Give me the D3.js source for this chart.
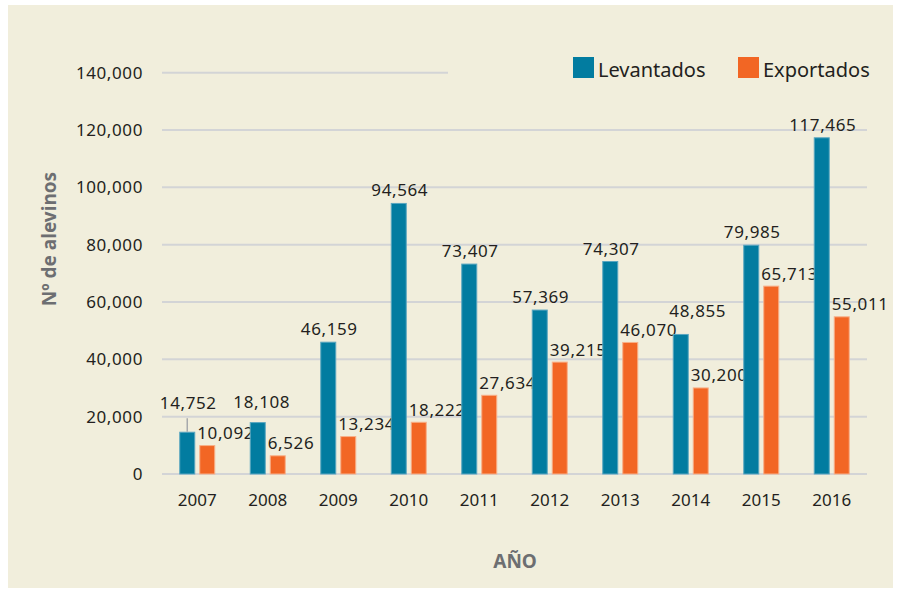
<!DOCTYPE html>
<html>
<head>
<meta charset="utf-8">
<script src="https://cdn.jsdelivr.net/npm/d3@7"></script>
<style>
  html, body { margin: 0; padding: 0; background: #ffffff; }
  svg { display: block; }
  text { font-family: "Noto Sans", sans-serif; }
</style>
</head>
<body>
<svg id="chart" width="899" height="589"></svg>
<script>
const years = ["2007","2008","2009","2010","2011","2012","2013","2014","2015","2016"];
const seriesNames = ["Levantados", "Exportados"];
const levantados = [14752, 18108, 46159, 94564, 73407, 57369, 74307, 48855, 79985, 117465];
const exportados = [10092, 6526, 13234, 18222, 27634, 39215, 46070, 30200, 65713, 55011];
const yTicks = [0, 20000, 40000, 60000, 80000, 100000, 120000, 140000];
const yTitle = "Nº de alevinos";
const xTitle = "AÑO";

const colors = { Levantados: "#027ca0", Exportados: "#f26624" };
const strokes = { Levantados: "#5aa6c0", Exportados: "#f8b088" };

const svg = d3.select("#chart");
const fmt = d3.format(",");

// panel background
svg.append("rect").attr("x", 8).attr("y", 5).attr("width", 885).attr("height", 583).attr("fill", "#f1eedc");

const plotLeft = 162, plotRight = 867, plotTop = 72.7, plotBottom = 474;
const x0 = d3.scaleBand().domain(years).range([plotLeft, plotRight]).padding(0);
const bw = x0.bandwidth();
const x1 = d3.scaleBand().domain(seriesNames).range([bw / 2 - 18, bw / 2 + 18]).paddingInner(0.2).paddingOuter(0);
const y = d3.scaleLinear().domain([0, 140000]).range([plotBottom, plotTop]);

// gridlines
svg.append("g").selectAll("line").data(yTicks).join("line")
  .attr("x1", plotLeft).attr("x2", plotRight)
  .attr("y1", d => y(d)).attr("y2", d => y(d))
  .attr("stroke", "#d3d4d6").attr("stroke-width", 2);

// y axis labels
const yAxis = svg.append("g").attr("transform", `translate(${plotLeft},0)`)
  .call(d3.axisLeft(y).tickValues(yTicks).tickFormat(fmt).tickSize(0).tickPadding(19));
yAxis.select(".domain").remove();
yAxis.selectAll("text").attr("font-size", 17).attr("fill", "#231f20")
  .attr("letter-spacing", 0.6).style("font-family", '"Noto Sans", sans-serif');

// x axis labels
const xAxis = svg.append("g").attr("transform", `translate(0,${plotBottom})`)
  .call(d3.axisBottom(x0).tickSize(0).tickPadding(20));
xAxis.select(".domain").remove();
xAxis.selectAll("text").attr("font-size", 17).attr("fill", "#231f20")
  .style("font-family", '"Noto Sans", sans-serif');

// legend background (covers top gridline on the right)
svg.append("rect").attr("x", 448).attr("y", 50).attr("width", 430).attr("height", 40).attr("fill", "#f1eedc");

// data
const rows = years.map((yr, i) => ({ year: yr, vals: [
  { key: "Levantados", value: levantados[i] },
  { key: "Exportados", value: exportados[i] }
]}));

const groups = svg.append("g").selectAll("g").data(rows).join("g")
  .attr("transform", d => `translate(${x0(d.year)},0)`);

groups.selectAll("rect").data(d => d.vals).join("rect")
  .attr("x", d => x1(d.key) + 0.5)
  .attr("width", x1.bandwidth() - 1)
  .attr("y", d => y(d.value) + 0.5)
  .attr("height", d => plotBottom - y(d.value) - 0.5)
  .attr("fill", d => colors[d.key])
  .attr("stroke", d => strokes[d.key])
  .attr("stroke-width", 1);

// label nudges (manual placement in the original)
const nudge = {
  "2007": { dx: 0, dy: -16, leader: true },
  "2008": { dx: 3, dy: -8 },
  "2014": { dx: 16, dy: -10 }
};

groups.each(function(d) {
  const g = d3.select(this);
  const lv = d.vals[0], ex = d.vals[1];
  const n = nudge[d.year] || { dx: 0, dy: 0 };
  const cx = x1("Levantados") + x1.bandwidth() / 2;
  const ly = y(lv.value) - 6.5 + n.dy;
  if (n.leader) {
    g.append("line").attr("x1", cx).attr("x2", cx)
      .attr("y1", ly + 9).attr("y2", y(lv.value))
      .attr("stroke", "#a7a9ac").attr("stroke-width", 1.5);
  }
  g.append("text").attr("x", cx + 1 + n.dx).attr("y", ly)
    .attr("text-anchor", "middle").attr("font-size", 17).attr("letter-spacing", 0.6)
    .attr("fill", "#231f20").text(fmt(lv.value));
  g.append("text").attr("x", x1("Exportados") - 2).attr("y", y(ex.value) - 6)
    .attr("text-anchor", "start").attr("font-size", 17).attr("letter-spacing", 0.6)
    .attr("fill", "#231f20").text(fmt(ex.value));
});

// legend
const legendPos = [{ key: "Levantados", x: 573 }, { key: "Exportados", x: 738 }];
const lg = svg.append("g").selectAll("g").data(legendPos).join("g");
lg.append("rect").attr("x", d => d.x).attr("y", 57).attr("width", 21).attr("height", 21)
  .attr("fill", d => colors[d.key]);
lg.append("text").attr("x", d => d.x + 25).attr("y", 77).attr("font-size", 20)
  .attr("fill", "#231f20").text(d => d.key);

// axis titles
svg.append("text").attr("transform", "translate(56,239) rotate(-90)")
  .attr("text-anchor", "middle").attr("font-size", 19).attr("font-weight", "bold")
  .attr("fill", "#6d6e71").text(yTitle);
svg.append("text").attr("x", 515).attr("y", 568)
  .attr("text-anchor", "middle").attr("font-size", 19).attr("font-weight", "bold")
  .attr("fill", "#6d6e71").text(xTitle);
</script>
</body>
</html>
